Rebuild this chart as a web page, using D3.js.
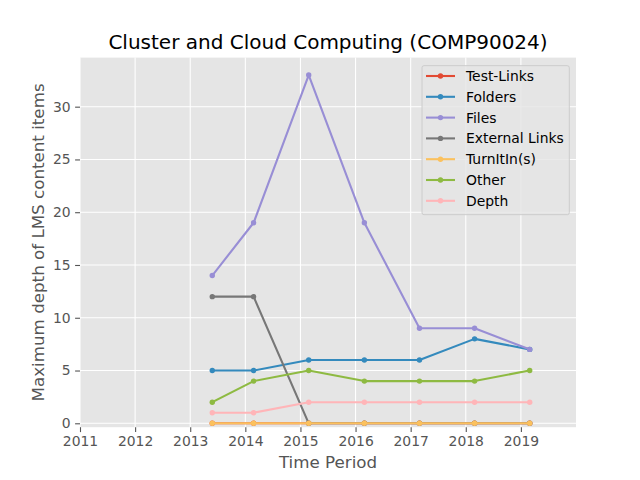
<!DOCTYPE html>
<html>
<head>
<meta charset="utf-8">
<script src="https://cdn.jsdelivr.net/npm/d3@7"></script>
<style>
  body { margin: 0; background: #fff; }
  text { font-family: "DejaVu Sans", sans-serif; }
</style>
</head>
<body>
<svg id="chart" width="640" height="480"></svg>
<script>
const timePoints = [2013.4, 2014.15, 2015.15, 2016.16, 2017.16, 2018.16, 2019.16];
const testLinks = [0, 0, 0, 0, 0, 0, 0];
const folders = [5, 5, 6, 6, 6, 8, 7];
const files = [14, 19, 33, 19, 9, 9, 7];
const externalLinks = [12, 12, 0, 0, 0, 0, 0];
const turnItIn = [0, 0, 0, 0, 0, 0, 0];
const other = [2, 4, 5, 4, 4, 4, 5];
const depth = [1, 1, 2, 2, 2, 2, 2];
const seriesNames = ["Test-Links", "Folders", "Files", "External Links", "TurnItIn(s)", "Other", "Depth"];
const seriesColors = ["#E24A33", "#348ABD", "#988ED5", "#777777", "#FBC15E", "#8EBA42", "#FFB5B8"];
const xTicks = [2011, 2012, 2013, 2014, 2015, 2016, 2017, 2018, 2019];
const yTicks = [0, 5, 10, 15, 20, 25, 30];

const series = [testLinks, folders, files, externalLinks, turnItIn, other, depth].map((vals, i) => ({
  name: seriesNames[i], color: seriesColors[i],
  points: vals.map((v, j) => ({ x: timePoints[j], y: v }))
}));

const svg = d3.select("#chart");
const L = 80, R = 576, T = 57.6, B = 427.2;
const x = d3.scaleLinear().domain([2011, 2020]).range([L, R]);
const y = d3.scaleLinear().domain([-0.37, 34.65]).range([B, T]);

svg.append("rect").attr("x", L).attr("y", T).attr("width", R - L).attr("height", B - T).attr("fill", "#E5E5E5");

// grid
svg.append("g").selectAll("line").data(xTicks).join("line")
  .attr("x1", d => x(d)).attr("x2", d => x(d)).attr("y1", T).attr("y2", B)
  .attr("stroke", "#fff").attr("stroke-width", 1.1);
svg.append("g").selectAll("line").data(yTicks).join("line")
  .attr("x1", L).attr("x2", R).attr("y1", d => y(d)).attr("y2", d => y(d))
  .attr("stroke", "#fff").attr("stroke-width", 1.1);

// axes
const xAxis = d3.axisBottom(x).tickValues(xTicks).tickFormat(d3.format("d")).tickSizeInner(4.9).tickSizeOuter(0).tickPadding(4);
const gx = svg.append("g").attr("transform", `translate(0,${B})`).call(xAxis);
gx.select(".domain").remove();
gx.selectAll("line").attr("stroke", "#555").attr("stroke-width", 1.1);
gx.selectAll("text").attr("fill", "#555").attr("font-size", "13.9px").attr("font-family", "DejaVu Sans");

const yAxis = d3.axisLeft(y).tickValues(yTicks).tickSizeInner(4.9).tickSizeOuter(0).tickPadding(4.5);
const gy = svg.append("g").attr("transform", `translate(${L},0)`).call(yAxis);
gy.select(".domain").remove();
gy.selectAll("line").attr("stroke", "#555").attr("stroke-width", 1.1);
gy.selectAll("text").attr("fill", "#555").attr("font-size", "13.9px").attr("font-family", "DejaVu Sans");

// lines
const line = d3.line().x(d => x(d.x)).y(d => y(d.y));
series.forEach(s => {
  const g = svg.append("g");
  g.append("path").attr("d", line(s.points)).attr("fill", "none")
    .attr("stroke", s.color).attr("stroke-width", 2.1).attr("stroke-linejoin", "round").attr("stroke-linecap", "square");
  g.selectAll("circle").data(s.points).join("circle")
    .attr("cx", d => x(d.x)).attr("cy", d => y(d.y)).attr("r", 2.7).attr("fill", s.color);
});

// titles
svg.append("text").attr("x", (L + R) / 2).attr("y", 49).attr("text-anchor", "middle")
  .attr("font-size", "20px").attr("fill", "#000").text("Cluster and Cloud Computing (COMP90024)");
svg.append("text").attr("x", (L + R) / 2).attr("y", 468).attr("text-anchor", "middle")
  .attr("font-size", "16.7px").attr("fill", "#555").text("Time Period");
svg.append("text").attr("transform", `translate(44,${(T + B) / 2}) rotate(-90)`).attr("text-anchor", "middle")
  .attr("font-size", "16.7px").attr("fill", "#555").text("Maximum depth of LMS content items");

// legend
const lg = svg.append("g");
lg.append("rect").attr("x", 422).attr("y", 65.7).attr("width", 147.3).attr("height", 149)
  .attr("fill", "#E5E5E5").attr("fill-opacity", 0.8).attr("stroke", "#CCCCCC").attr("stroke-width", 1).attr("rx", 2);
series.forEach((s, i) => {
  const cy = 76 + i * 20.8;
  lg.append("line").attr("x1", 426).attr("x2", 455).attr("y1", cy).attr("y2", cy)
    .attr("stroke", s.color).attr("stroke-width", 2.1);
  lg.append("circle").attr("cx", 440.5).attr("cy", cy).attr("r", 2.7).attr("fill", s.color);
  lg.append("text").attr("x", 466).attr("y", cy + 5).attr("font-size", "13.9px").attr("fill", "#000").text(s.name);
});
</script>
</body>
</html>
